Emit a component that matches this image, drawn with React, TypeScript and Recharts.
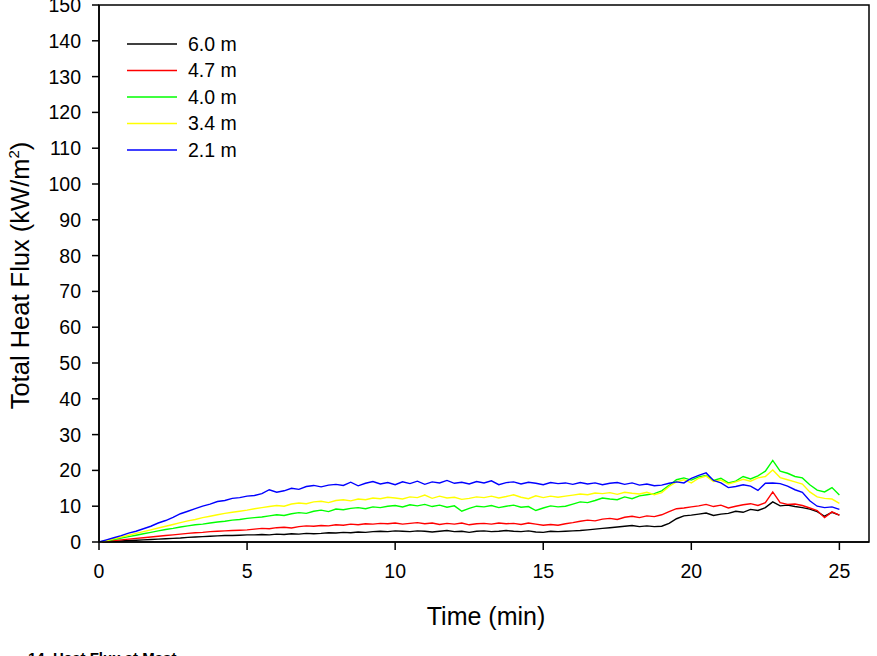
import React from 'react';
import { LineChart, Line, XAxis, YAxis, Legend, ReferenceArea } from 'recharts';

const times = [
  0, 0.25, 0.5, 0.75, 1, 1.25, 1.5, 1.75, 2, 2.25, 2.5, 2.75, 3, 3.25, 3.5, 3.75, 4, 4.25, 4.5, 4.75,
  5, 5.25, 5.5, 5.75, 6, 6.25, 6.5, 6.75, 7, 7.25, 7.5, 7.75, 8, 8.25, 8.5, 8.75, 9, 9.25, 9.5, 9.75,
  10, 10.25, 10.5, 10.75, 11, 11.25, 11.5, 11.75, 12, 12.25, 12.5, 12.75, 13, 13.25, 13.5, 13.75, 14, 14.25, 14.5, 14.75,
  15, 15.25, 15.5, 15.75, 16, 16.25, 16.5, 16.75, 17, 17.25, 17.5, 17.75, 18, 18.25, 18.5, 18.75, 19, 19.25, 19.5, 19.75,
  20, 20.25, 20.5, 20.75, 21, 21.25, 21.5, 21.75, 22, 22.25, 22.5, 22.75, 23, 23.25, 23.5, 23.75, 24, 24.25, 24.5, 24.75,
  25,
];

const flux60 = [
  0, 0.1, 0.2, 0.3, 0.4, 0.5, 0.6, 0.7, 0.8, 0.9, 1.0, 1.1, 1.3, 1.4, 1.5, 1.6, 1.7, 1.8, 1.8, 1.9,
  2.0, 2.0, 2.1, 2.0, 2.2, 2.1, 2.3, 2.2, 2.4, 2.3, 2.4, 2.6, 2.5, 2.7, 2.6, 2.8, 2.7, 2.9, 3.0, 2.9,
  3.1, 3.0, 2.9, 3.1, 3.0, 2.8, 3.0, 3.2, 2.9, 3.0, 2.7, 3.0, 3.1, 2.9, 3.0, 3.2, 3.0, 2.9, 3.1, 2.8,
  2.7, 3.0, 2.9, 3.0, 3.1, 3.2, 3.4, 3.6, 3.8, 4.0, 4.2, 4.4, 4.6, 4.3, 4.5, 4.3, 4.4, 5.2, 6.5, 7.3,
  7.5, 7.8, 8.1, 7.4, 7.8, 8.0, 8.6, 8.3, 9.1, 8.8, 9.6, 11.2, 10.1, 10.3, 9.9, 9.6, 9.2, 8.5, 7.2, 8.3,
  7.5,
];

const flux47 = [
  0, 0.2, 0.4, 0.6, 0.8, 1.0, 1.2, 1.4, 1.6, 1.8, 2.0, 2.2, 2.4, 2.6, 2.7, 2.9, 3.0, 3.1, 3.2, 3.3,
  3.4, 3.6, 3.8, 3.7, 4.0, 4.1, 3.9, 4.3, 4.5, 4.4, 4.6, 4.5, 4.8, 4.7, 5.0, 4.8, 5.1, 5.0, 5.2, 5.1,
  5.3, 5.0, 5.2, 5.4, 5.1, 5.3, 4.9, 5.2, 5.0, 5.3, 4.8, 5.1, 5.2, 5.0, 5.3, 5.1, 5.2, 4.9, 5.3, 5.0,
  4.7, 4.9, 4.7, 5.1, 5.4, 5.8, 6.1, 5.9, 6.4, 6.6, 6.3, 6.9, 7.2, 6.8, 7.3, 7.1, 7.6, 8.5, 9.3, 9.5,
  9.8, 10.1, 10.5, 9.9, 10.3, 9.5, 10.0, 10.4, 10.7, 10.2, 11.0, 14.0, 11.0, 10.5, 10.6, 10.2, 9.5, 8.8, 6.8, 8.4,
  7.5,
];

const flux40 = [
  0, 0.3, 0.7, 1.1, 1.5, 1.9, 2.3, 2.7, 3.1, 3.5, 3.8, 4.2, 4.5, 4.8, 5.0, 5.3, 5.6, 5.8, 6.1, 6.3,
  6.6, 6.8, 7.0, 7.3, 7.6, 7.4, 7.9, 8.2, 8.0, 8.6, 8.9, 8.5, 9.2, 9.0, 9.4, 9.6, 9.3, 9.8, 9.6, 10.0,
  10.2, 9.8, 10.4, 10.1, 10.5, 9.9, 10.3, 9.7, 10.1, 8.6, 9.4, 10.0, 9.8, 10.2, 9.6, 10.0, 10.3, 9.7, 9.9, 8.8,
  9.5, 10.1, 9.8, 10.0, 10.6, 11.2, 11.0, 11.6, 12.3, 12.0, 11.8, 12.6, 12.1, 12.9, 13.2, 13.5, 14.3, 15.8, 17.4, 17.9,
  17.3, 18.2, 18.6, 17.2, 17.8, 16.5, 17.0, 18.3, 17.6, 18.5, 19.8, 22.8, 19.8, 19.2, 18.3, 17.9, 16.0, 14.5, 14.0, 15.2,
  13.1,
];

const flux34 = [
  0, 0.4, 0.9, 1.4, 1.9, 2.4, 2.9, 3.4, 3.9, 4.4, 4.9, 5.4, 5.9, 6.3, 6.8, 7.2, 7.6, 8.0, 8.3, 8.6,
  8.9, 9.3, 9.6, 9.9, 10.2, 10.0, 10.6, 10.9, 10.7, 11.2, 11.4, 11.0, 11.6, 11.8, 11.5, 12.0, 11.8, 12.3, 12.1, 12.5,
  12.3, 12.0, 12.6, 12.4, 13.1, 12.2, 12.8, 12.3, 12.5, 11.9, 12.2, 12.6, 12.4, 12.8, 12.3, 12.7, 13.2, 12.5, 12.1, 12.9,
  12.4, 12.8, 12.5, 12.8, 13.1, 13.4, 13.2, 13.7, 13.5, 13.8, 13.3, 13.9, 13.6, 13.4, 13.9, 13.2, 13.8, 15.5, 16.8, 17.4,
  16.5, 17.8, 18.4, 16.9, 17.3, 16.2, 16.8, 17.5, 17.0, 17.9, 18.3, 20.1, 18.0, 17.4, 16.8, 16.2, 14.0, 12.6, 12.2, 12.0,
  10.8,
];

const flux21 = [
  0, 0.6, 1.2, 1.8, 2.5, 3.0, 3.7, 4.4, 5.3, 6.0, 6.9, 7.9, 8.6, 9.3, 10.0, 10.6, 11.3, 11.6, 12.2, 12.4,
  12.8, 13.0, 13.5, 14.6, 13.9, 14.3, 15.0, 14.7, 15.5, 15.8, 15.4, 15.9, 16.1, 15.8, 16.7, 15.7, 16.4, 16.9, 16.2, 16.6,
  16.0, 16.8, 16.3, 17.0, 16.1, 16.8, 16.5, 17.2, 16.4, 16.7, 16.2, 16.9, 16.5, 17.1, 16.0, 16.6, 16.8, 16.2, 16.7, 16.4,
  16.0, 16.6, 16.3, 16.5, 16.1, 16.6, 16.2, 16.5, 16.0, 16.4, 16.6, 16.1, 16.5, 15.9, 16.2, 15.7, 15.9, 16.4, 16.8, 16.5,
  17.8, 18.6, 19.3, 17.2, 16.5, 15.2, 15.5, 16.0, 15.6, 14.4, 16.4, 16.5, 16.3, 15.6, 14.6, 13.9, 11.5, 10.0, 9.6, 9.8,
  9.1,
];

const seriesNames = ['6.0 m', '4.7 m', '4.0 m', '3.4 m', '2.1 m'];
const seriesKeys = ['s60', 's47', 's40', 's34', 's21'];
const seriesColors = ['#000000', '#ff0000', '#00ff00', '#ffff00', '#0000ff'];
const seriesValues = [flux60, flux47, flux40, flux34, flux21];

const xTicks = [0, 5, 10, 15, 20, 25];
const yTicks = [0, 10, 20, 30, 40, 50, 60, 70, 80, 90, 100, 110, 120, 130, 140, 150];

const data = times.map((t, i) => {
  const row: Record<string, number> = { t };
  seriesKeys.forEach((k, j) => {
    row[k] = seriesValues[j][i];
  });
  return row;
});

const FONT = '"Liberation Sans", Arial, sans-serif';

const LegendContent = (props: any) => {
  const payload = [...(props.payload || [])].sort(
    (a: any, b: any) => seriesKeys.indexOf(a.dataKey) - seriesKeys.indexOf(b.dataKey)
  );
  return (
    <svg width={140} height={140} style={{ display: 'block' }}>
      {payload.map((p: any, i: number) => {
        const y = 13 + i * 26.5;
        return (
          <g key={i}>
            <line x1={0} x2={50} y1={y} y2={y} stroke={p.color} strokeWidth={1.4} />
            <text x={61} y={y} dy="0.355em" fontSize={19.5} fontFamily={FONT} fill="#000">
              {p.value}
            </text>
          </g>
        );
      })}
    </svg>
  );
};

const XLabel = (props: any) => {
  const vb = props.viewBox || { x: 99, y: 542, width: 770, height: 114 };
  return (
    <text x={vb.x + vb.width / 2 + 2} y={vb.y + 83} textAnchor="middle" fontSize={25} fontFamily={FONT} fill="#000">
      Time (min)
    </text>
  );
};

const YLabel = (props: any) => {
  const vb = props.viewBox || { x: 0, y: 5, width: 99, height: 537 };
  const cx = 29;
  const cy = vb.y + vb.height / 2 + 2;
  return (
    <text
      x={cx}
      y={cy}
      textAnchor="middle"
      transform={`rotate(-90, ${cx}, ${cy})`}
      fontSize={25.5}
      fontFamily={FONT}
      fill="#000"
    >
      Total Heat Flux (kW/m
      <tspan fontSize={15} dy={-10}>2</tspan>
      <tspan dy={10}>)</tspan>
    </text>
  );
};

export default function App() {
  return (
    <div style={{ position: 'absolute', left: 0, top: 0, width: 877, height: 656, background: '#fff', overflow: 'hidden' }}>
      <LineChart width={877} height={656} data={data} margin={{ top: 5, right: 8, left: 0, bottom: 0 }}>
        <XAxis
          dataKey="t"
          type="number"
          domain={[0, 26]}
          ticks={xTicks}
          height={114}
          tickSize={8}
          tickMargin={14}
          axisLine={{ stroke: '#000', strokeWidth: 1.5 }}
          tickLine={{ stroke: '#000', strokeWidth: 1.5 }}
          tick={{ fontSize: 19.5, fontFamily: FONT, fill: '#000' }}
          label={<XLabel />}
        />
        <YAxis
          type="number"
          domain={[0, 150]}
          ticks={yTicks}
          interval={0}
          width={99}
          tickSize={7}
          tickMargin={11}
          axisLine={{ stroke: '#000', strokeWidth: 1.5 }}
          tickLine={{ stroke: '#000', strokeWidth: 1.5 }}
          tick={{ fontSize: 19.5, fontFamily: FONT, fill: '#000' }}
          label={<YLabel />}
        />
        <ReferenceArea x1={0} x2={26} y1={0} y2={150} fill="none" stroke="#000" strokeWidth={1.5} ifOverflow="visible" />
        {seriesKeys.map((k, j) => (
          <Line
            key={k}
            type="linear"
            dataKey={k}
            name={seriesNames[j]}
            stroke={seriesColors[j]}
            strokeWidth={1.4}
            dot={false}
            activeDot={false}
            isAnimationActive={false}
          />
        ))}
        <Legend
          layout="vertical"
          align="center"
          verticalAlign="middle"
          content={<LegendContent />}
          wrapperStyle={{ left: 127, top: 31, width: 140, height: 140 }}
        />
      </LineChart>
      <div
        style={{
          position: 'absolute',
          left: 28,
          top: 650,
          fontFamily: FONT,
          fontWeight: 'bold',
          fontSize: 15,
          lineHeight: '15px',
          color: '#000',
          whiteSpace: 'nowrap',
        }}
      >
        14. Heat Flux at Mast
      </div>
    </div>
  );
}
